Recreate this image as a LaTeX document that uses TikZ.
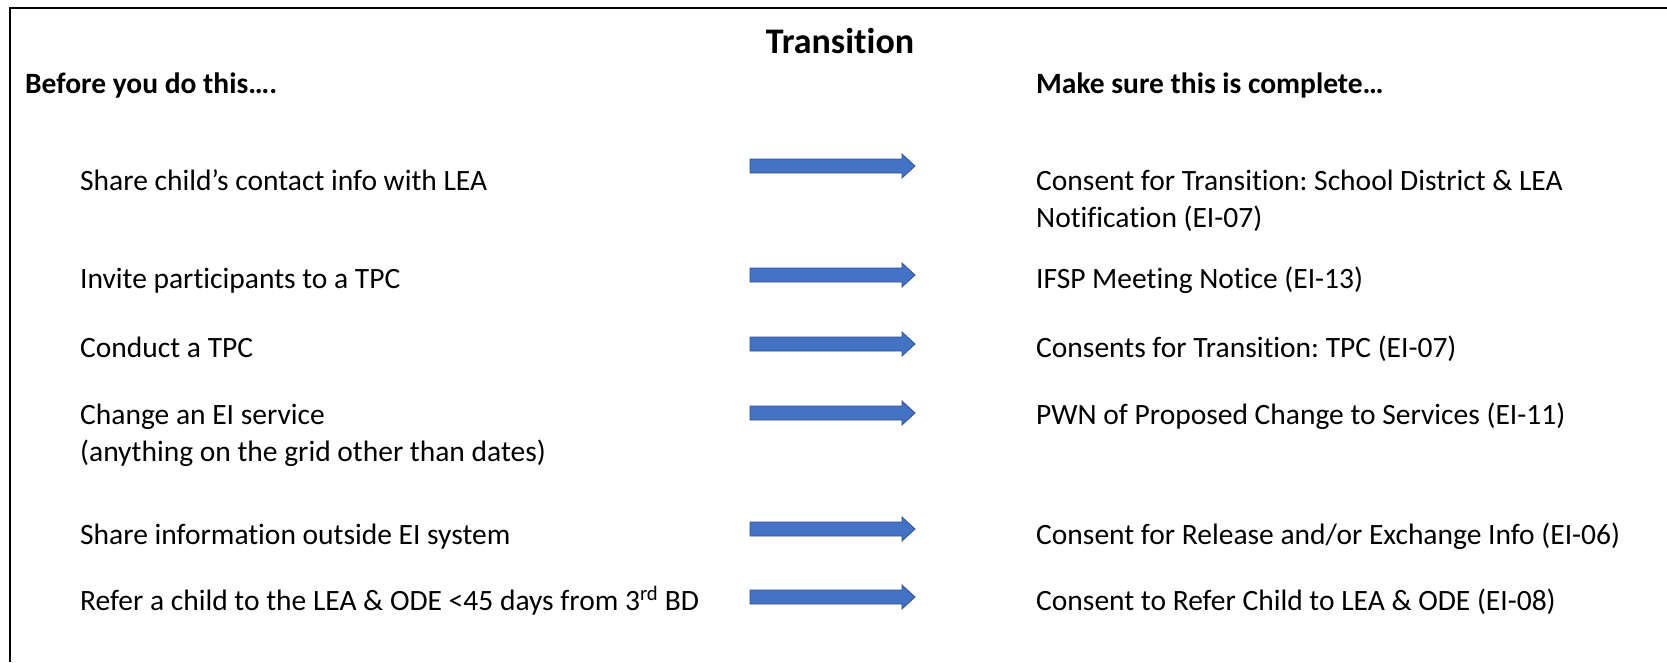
\documentclass[tikz,border=0pt]{standalone}
\usepackage{fontspec}
\setmainfont[Ligatures=NoCommon]{Carlito}
\frenchspacing
\definecolor{arrowfill}{HTML}{4472C4}
\definecolor{arrowedge}{HTML}{2F528F}
\begin{document}
\begin{tikzpicture}[x=1pt,y=-1pt,
  body/.style={anchor=base west,inner sep=0pt,align=left,font=\fontsize{29.5}{37}\selectfont\frenchspacing},
  header/.style={anchor=base west,inner sep=0pt,font=\fontsize{29.5}{37}\selectfont\bfseries\frenchspacing},
  titletext/.style={anchor=base,inner sep=0pt,font=\fontsize{36}{44}\selectfont\bfseries},
  bluearrow/.pic={\draw[fill=arrowfill,draw=arrowedge,line width=0.8pt,line join=miter]
     (0,-7)--(152,-7)--(152,-12)--(165,0)--(152,12)--(152,7)--(0,7)--cycle;}]
\useasboundingbox (0,0) rectangle (1667,662);
\draw[line width=2pt] (10,662) -- (10,8) -- (1667,8);
\node[titletext] (title) at (840,53) {Transition};
\node[header] (hl) at (25,93) {Before you do this….};
\node[header] (hr) at (1036,93) {Make sure this is complete…};
% multi-line nodes: anchor at baseline of last line
\node[body] (l1) at (80,190) {Share child’s contact info with LEA};
\node[body] (l2) at (80,288) {Invite participants to a TPC};
\node[body] (l3) at (80,357) {Conduct a TPC};
\node[body] (l4) at (80,461) {Change an EI service\\(anything on the grid other than dates)};
\node[body] (l5) at (80,544) {Share information outside EI system};
\node[body] (l6) at (80,610) {Refer a child to the LEA \& ODE <45 days from 3\textsuperscript{rd} BD};
\node[body] (r1) at (1036,227) {Consent for Transition: School District \& LEA\\Notification (EI-07)};
\node[body] (r2) at (1036,288) {IFSP Meeting Notice (EI-13)};
\node[body] (r3) at (1036,357) {Consents for Transition: TPC (EI-07)};
\node[body] (r4) at (1036,424) {PWN of Proposed Change to Services (EI-11)};
\node[body] (r5) at (1036,544) {Consent for Release and/or Exchange Info (EI-06)};
\node[body] (r6) at (1036,610) {Consent to Refer Child to LEA \& ODE (EI-08)};
\pic at (750,166) {bluearrow};
\pic at (750,275) {bluearrow};
\pic at (750,344) {bluearrow};
\pic at (750,413) {bluearrow};
\pic at (750,529) {bluearrow};
\pic at (750,597) {bluearrow};
\end{tikzpicture}
\end{document}
